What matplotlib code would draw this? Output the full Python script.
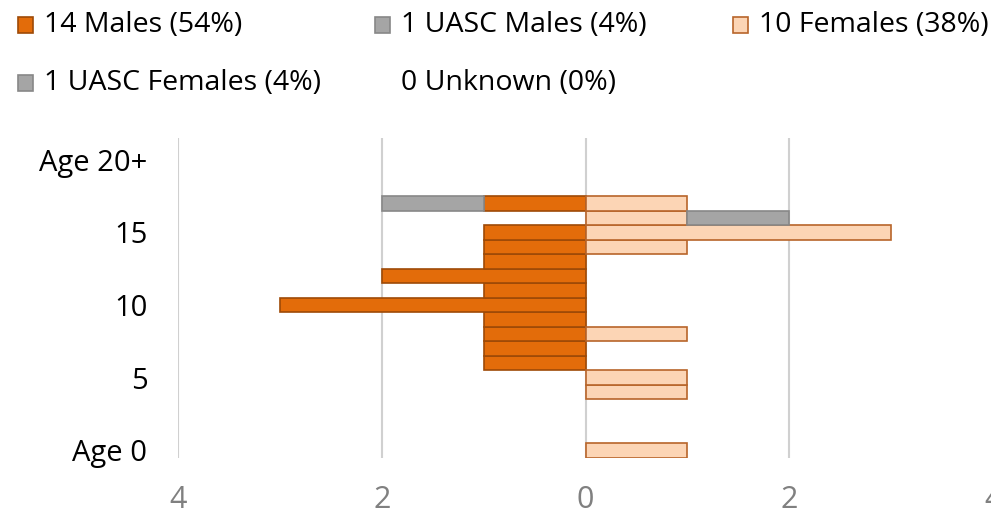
import numpy as np
import matplotlib.pyplot as plt
from matplotlib.patches import Rectangle
from matplotlib.ticker import FuncFormatter

plt.rcParams["font.family"] = ["Open Sans", "DejaVu Sans"]

# ages 0..21 (22 category slots, 20 is labelled "Age 20+")
ages = np.arange(22)
males = np.zeros(22)
females = np.zeros(22)
uasc_males = np.zeros(22)
uasc_females = np.zeros(22)
unknown = np.zeros(22)

males[[6, 7, 8, 9, 10, 11, 12, 13, 14, 15, 17]] = [1, 1, 1, 1, 3, 1, 2, 1, 1, 1, 1]
females[[0, 4, 5, 8, 14, 15, 16, 17]] = [1, 1, 1, 1, 1, 3, 1, 1]
uasc_males[17] = 1
uasc_females[16] = 1

tick_ages = [0, 5, 10, 15, 20]
tick_labels = ["Age 0", "5", "10", "15", "Age 20+"]
legend_labels = ["14 Males (54%)", "1 UASC Males (4%)", "10 Females (38%)",
                 "1 UASC Females (4%)", "0 Unknown (0%)"]

c_male = "#E36C0A"
c_female = "#FCD5B5"
c_grey = "#A5A5A5"
e_male = "#9E4A07"
e_female = "#B8652A"
e_grey = "#888888"

fig = plt.figure(figsize=(9.91, 5.18), dpi=100)
ax = fig.add_axes([178 / 991, 1 - 457.5 / 518, 815 / 991, 319.5 / 518])


def bars(vals, left, fc, ec):
    m = vals > 0
    ax.barh(ages[m], vals[m], left=left[m], height=1.0, color=fc, edgecolor=ec,
            linewidth=1.2, zorder=3)


zero = np.zeros(22)
bars(males, -males, c_male, e_male)
bars(uasc_males, -males - uasc_males, c_grey, e_grey)
bars(females, zero, c_female, e_female)
bars(uasc_females, females, c_grey, e_grey)
bars(unknown, zero, "white", "white")

ax.set_xlim(-4, 4)
ax.set_ylim(-0.5, 21.5)
ax.set_xticks([-4, -2, 0, 2, 4])
ax.xaxis.set_major_formatter(FuncFormatter(lambda v, p: "%d" % abs(v)))
ax.set_yticks(tick_ages)
ax.set_yticklabels(tick_labels)
ax.tick_params(axis="x", length=0, pad=20, labelsize=22, labelcolor="#808080")
ax.tick_params(axis="y", length=0, pad=22, labelsize=21, labelcolor="#000000")
ax.grid(axis="x", color="#D0D0D0", linewidth=1.5, zorder=0)
for s in ax.spines.values():
    s.set_visible(False)

# legend drawn manually in figure pixels
leg_pos = [(18, 25), (375, 25), (733, 25), (18, 83), (375, 83)]
leg_cols = [(c_male, e_male), (c_grey, e_grey), (c_female, e_female),
            (c_grey, e_grey), ("white", "white")]
for (x, y), (fc, ec), lab in zip(leg_pos, leg_cols, legend_labels):
    fig.patches.append(Rectangle((x / 991, 1 - (y + 7.5) / 518), 15 / 991, 15 / 518,
                                 transform=fig.transFigure, facecolor=fc,
                                 edgecolor=ec, linewidth=1.2))
    fig.text((x + 26) / 991, 1 - y / 518, lab, fontsize=20.5, va="center", ha="left")

fig.savefig("out.png", dpi=100)
